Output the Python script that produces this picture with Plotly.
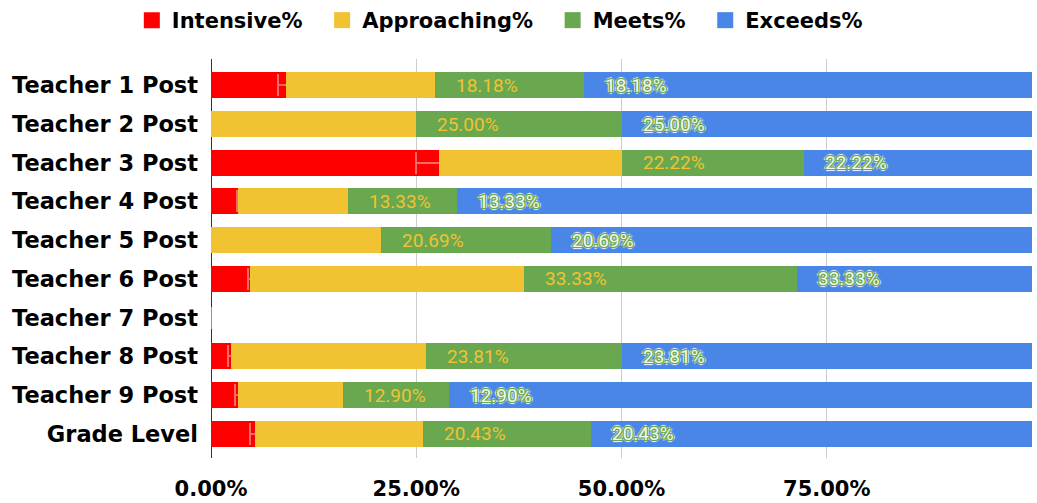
import plotly.graph_objects as go

categories = ["Teacher 1 Post", "Teacher 2 Post", "Teacher 3 Post", "Teacher 4 Post",
              "Teacher 5 Post", "Teacher 6 Post", "Teacher 7 Post", "Teacher 8 Post",
              "Teacher 9 Post", "Grade Level"]
intensive = [9.09, 0.0, 27.78, 3.33, 0.0, 4.76, 0.0, 2.38, 3.23, 5.38]
intensive_err = [0.97, 0.0, 2.78, 0.15, 0.0, 0.25, 0.0, 0.27, 0.35, 0.65]
approaching = [18.18, 25.00, 22.22, 13.33, 20.69, 33.33, 0.0, 23.81, 12.90, 20.43]
meets = [18.18, 25.00, 22.22, 13.33, 20.69, 33.33, 0.0, 23.81, 12.90, 20.43]
exceeds = [54.55, 50.00, 27.78, 70.00, 58.62, 28.57, 0.0, 50.00, 70.97, 53.76]
meets_labels = ["18.18%", "25.00%", "22.22%", "13.33%", "20.69%", "33.33%", "", "23.81%", "12.90%", "20.43%"]
exceeds_labels = ["18.18%", "25.00%", "22.22%", "13.33%", "20.69%", "33.33%", "", "23.81%", "12.90%", "20.43%"]
series_names = ["Intensive%", "Approaching%", "Meets%", "Exceeds%"]
x_tickvals = [0, 25, 50, 75, 100]
x_ticktext = ["0.00%", "25.00%", "50.00%", "75.00%", ""]

colors = ["#ff0000", "#f1c232", "#6aa84f", "#4a86e8"]
series = [intensive, approaching, meets, exceeds]
label_font = "DejaVu Sans"

fig = go.Figure()
for i, (name, vals) in enumerate(zip(series_names, series)):
    kw = {}
    if i == 0:
        kw["error_x"] = dict(type="data", array=intensive_err, visible=True,
                             color="#f26b6b", thickness=2, width=11)
    fig.add_trace(go.Bar(
        y=categories, x=vals, orientation="h", name=name,
        marker=dict(color=colors[i], line=dict(width=0)),
        showlegend=False, hoverinfo="skip", **kw))

nbsp = "\u00a0"
for i, name in enumerate(series_names):
    legend_name = name + (nbsp * 2 if i < len(series_names) - 1 else "")
    fig.add_trace(go.Scatter(
        x=[None], y=[None], mode="markers", name=legend_name,
        marker=dict(symbol="square", size=18, color=colors[i]),
        showlegend=True, hoverinfo="skip"))

annotations = []
outline = ", ".join([
    "1px 0 0 #6aa84f", "-1px 0 0 #6aa84f", "0 1px 0 #6aa84f", "0 -1px 0 #6aa84f",
    "1px 1px 0 #6aa84f", "-1px -1px 0 #6aa84f", "1px -1px 0 #6aa84f", "-1px 1px 0 #6aa84f",
    "2px 0 1px #ffffff", "-2px 0 1px #ffffff", "0 2px 1px #ffffff", "0 -2px 1px #ffffff"])
for j, cat in enumerate(categories):
    if meets_labels[j]:
        annotations.append(dict(
            x=intensive[j] + approaching[j], y=cat, xref="x", yref="y",
            text=meets_labels[j], showarrow=False, xanchor="left", xshift=19,
            font=dict(family="Roboto", size=19, color="#f1c232")))
    if exceeds_labels[j]:
        annotations.append(dict(
            x=intensive[j] + approaching[j] + meets[j], y=cat, xref="x", yref="y",
            text=exceeds_labels[j], showarrow=False, xanchor="left", xshift=19,
            font=dict(family="Roboto", size=19, color="#f4f9f1", shadow=outline)))

fig.update_layout(
    width=1037, height=503,
    barmode="stack", bargap=0.33,
    paper_bgcolor="white", plot_bgcolor="white",
    margin=dict(l=211, r=5, t=59, b=45),
    font=dict(family=label_font, color="#000000"),
    legend=dict(orientation="h", xref="container", yref="container",
                traceorder="normal",
                x=0.482, xanchor="center", y=1.0, yanchor="top",
                font=dict(family=label_font, size=21, weight="bold", color="#000000"),
                itemclick=False),
    annotations=annotations,
    xaxis=dict(range=[0, 100], tickvals=x_tickvals, ticktext=x_ticktext,
               showgrid=True, gridcolor="#cccccc", gridwidth=1,
               zeroline=True, zerolinecolor="#333333", zerolinewidth=1,
               showline=False, ticks="", ticklabelstandoff=16, automargin=False,
               tickfont=dict(family=label_font, size=21, weight="bold", color="#000000")),
    yaxis=dict(type="category", categoryorder="array", categoryarray=categories,
               range=[9.625, -0.679], showgrid=False, showline=False, ticks="",
               ticklabelstandoff=12, automargin=False,
               tickfont=dict(family=label_font, size=22.5, weight="bold", color="#000000")),
)

fig.write_html("out.html", config={"displayModeBar": False},
               post_script="document.body.style.margin='0';document.body.style.overflow='hidden';")
